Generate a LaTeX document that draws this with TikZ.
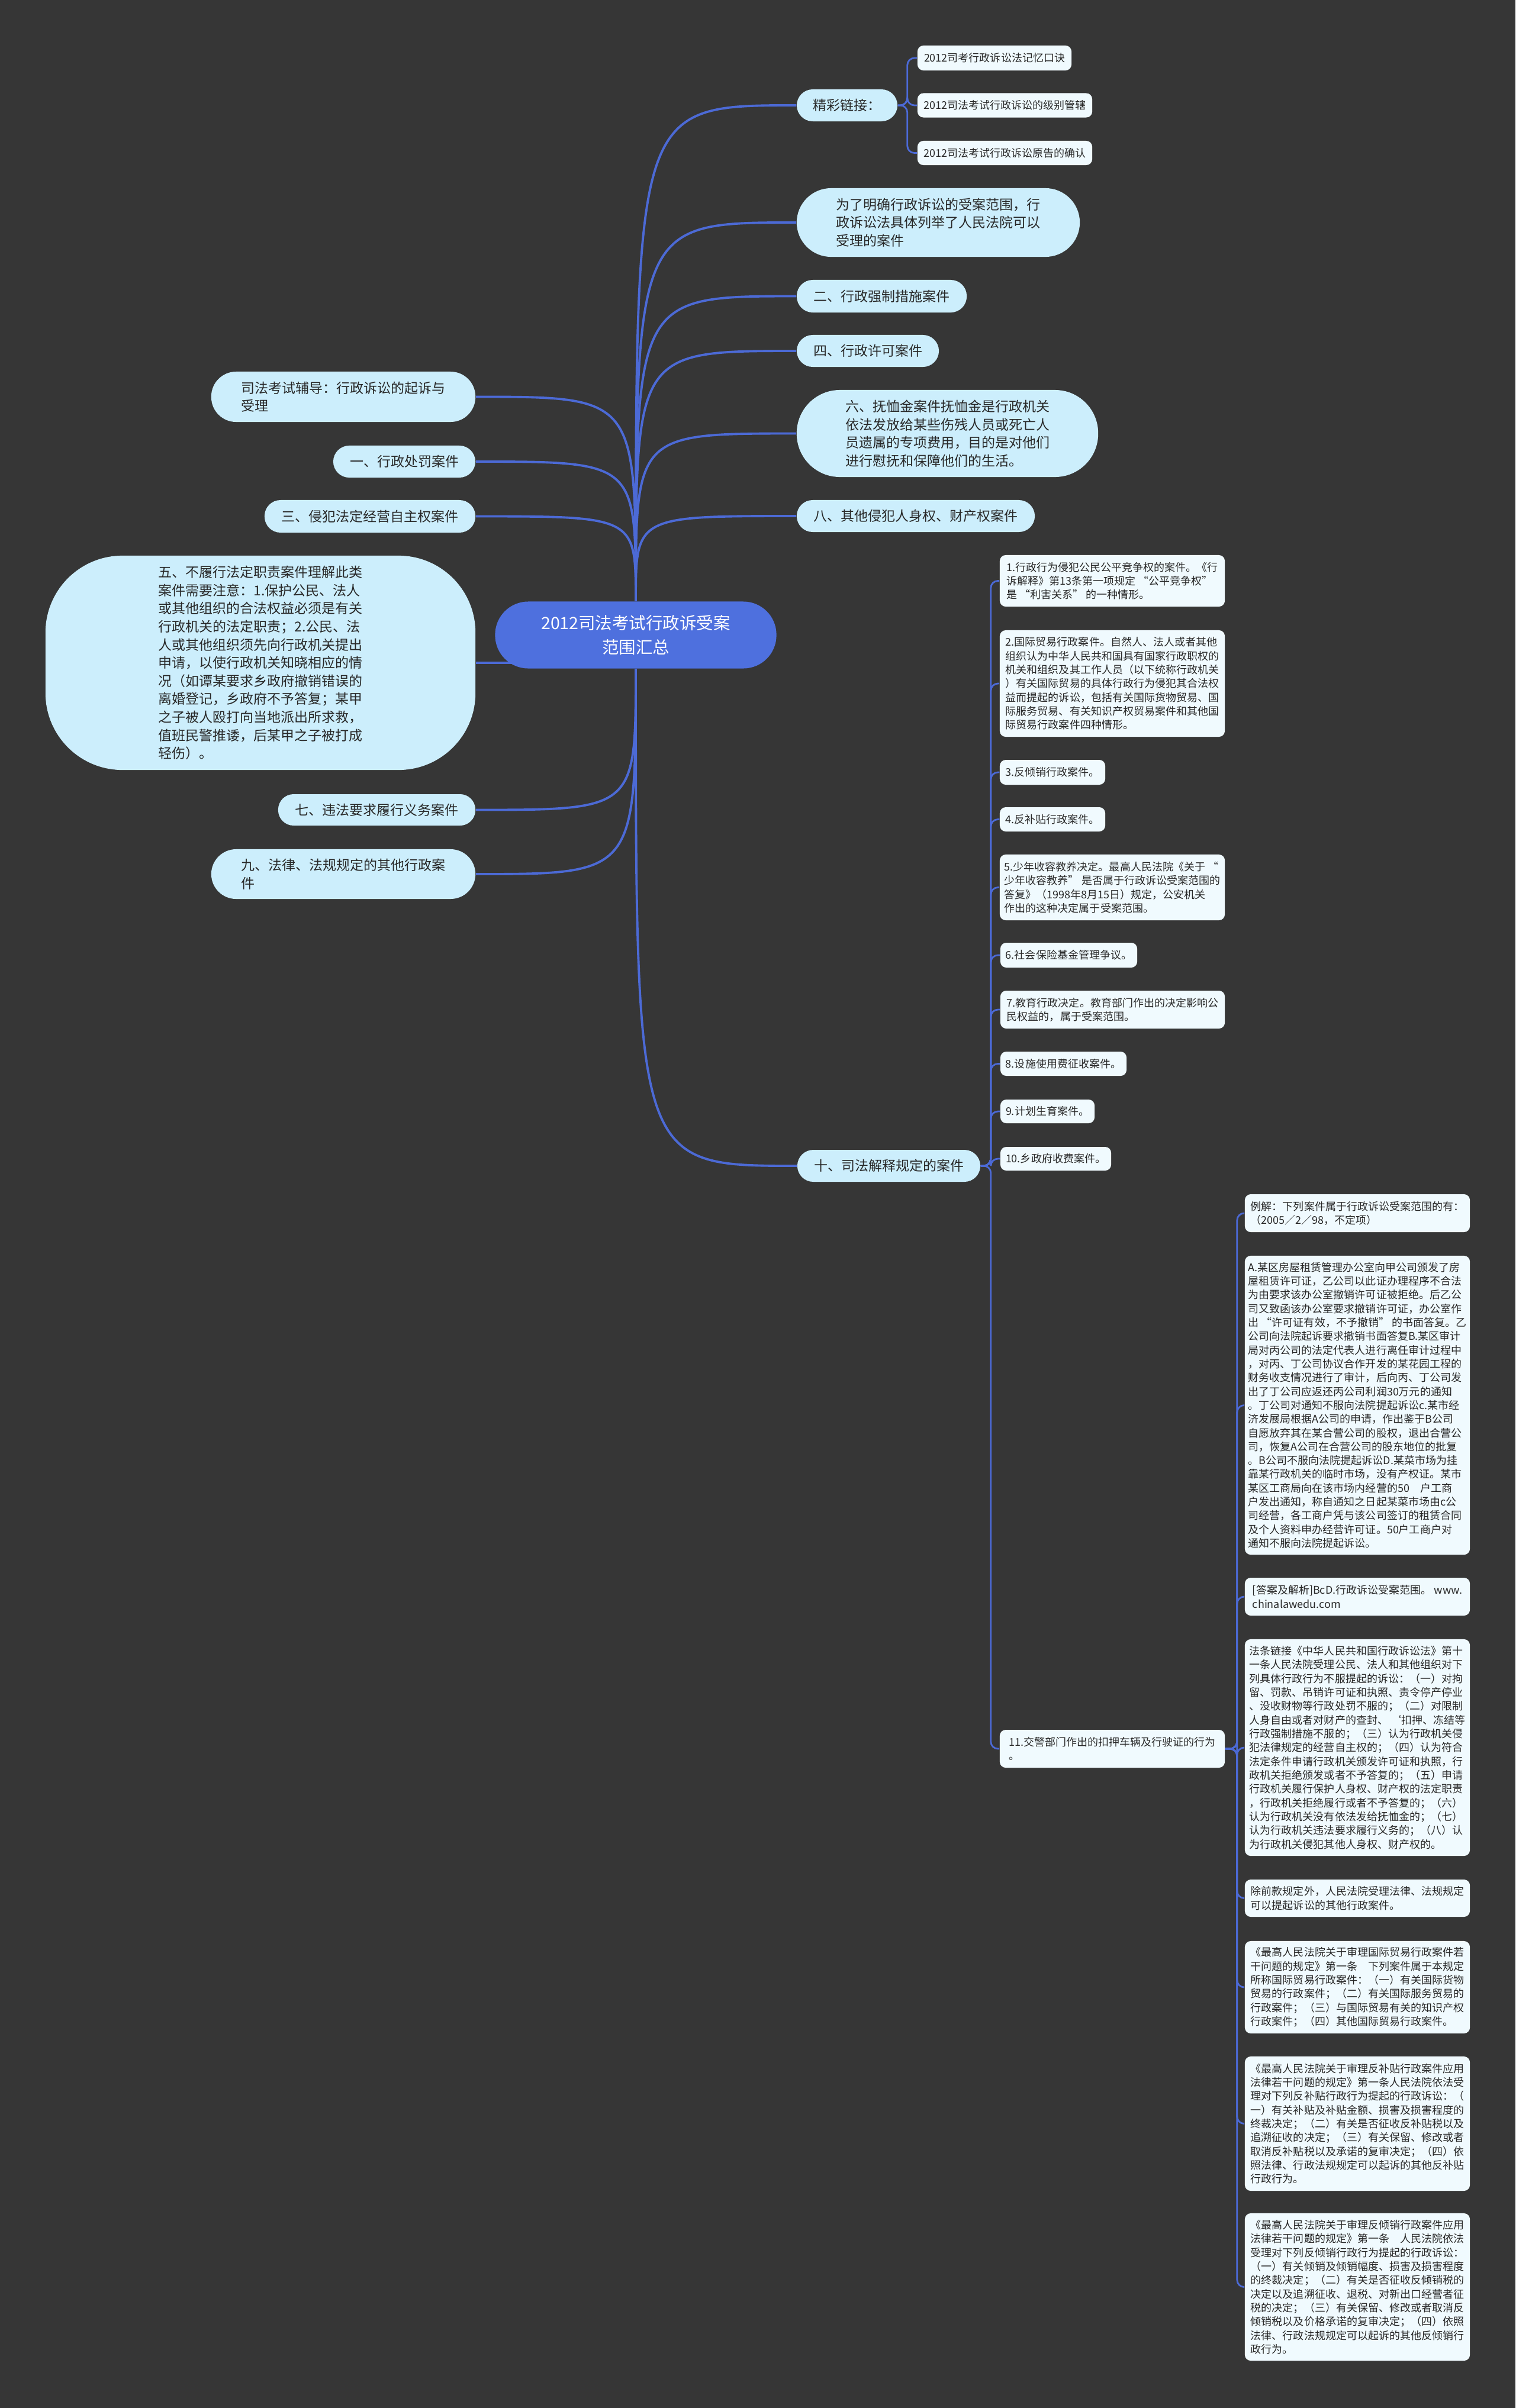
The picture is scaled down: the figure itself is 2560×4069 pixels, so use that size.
\documentclass[tikz,border=0pt]{standalone}
\usepackage{fontspec}
\setmainfont{Noto Sans CJK SC}
\usetikzlibrary{calc}
\pgfdeclarelayer{bg}
\pgfsetlayers{bg,main}
\definecolor{bgc}{RGB}{54,54,54}
\definecolor{linec}{RGB}{76,106,214}
\definecolor{rootc}{RGB}{78,112,222}
\definecolor{branchc}{RGB}{204,238,252}
\definecolor{leafc}{RGB}{240,250,254}
\definecolor{txt}{RGB}{40,40,40}
\tikzset{
 rootnode/.style={fill=rootc, text=white, inner sep=0pt, align=center, rounded corners=0.56cm, font=\fontsize{8.1pt}{11.9pt}\selectfont},
 br/.style={fill=branchc, text=txt, inner sep=0pt, align=left, font=\fontsize{6.54pt}{8.7pt}\selectfont},
 leaf/.style={fill=leafc, text=txt, inner sep=0pt, align=left, rounded corners=0.1cm, font=\fontsize{5.12pt}{6.63pt}\selectfont},
 conn/.style={draw=linec, line width=1.1pt},
 conn2/.style={draw=linec, line width=0.8pt, rounded corners=0.12cm},
}
\begin{document}
\begin{tikzpicture}[x=0.01cm, y=-0.01cm]
\useasboundingbox (0,0) rectangle (2560,4069);
% root
\node[rootnode, minimum width=4.75cm, minimum height=1.13cm] (root) at (1074,1073) {2012司法考试行政诉受案\\范围汇总};
% right branches
\node[br, minimum width=1.70cm, minimum height=0.54cm, rounded corners=0.27cm] (jc) at (1431,178) {精彩链接：};
\node[leaf, minimum width=2.60cm, minimum height=0.42cm] (p1) at (1680,98) {2012司考行政诉讼法记忆口诀};
\node[leaf, minimum width=2.95cm, minimum height=0.41cm] (p2) at (1697.5,178) {2012司法考试行政诉讼的级别管辖};
\node[leaf, minimum width=2.95cm, minimum height=0.41cm] (p3) at (1697.5,258.5) {2012司法考试行政诉讼原告的确认};
\node[br, minimum width=4.78cm, minimum height=1.16cm, rounded corners=0.58cm] (weile) at (1585,376) {为了明确行政诉讼的受案范围，行\\政诉讼法具体列举了人民法院可以\\受理的案件};
\node[br, minimum width=2.87cm, minimum height=0.55cm, rounded corners=0.27cm] (er) at (1489.5,500.5) {二、行政强制措施案件};
\node[br, minimum width=2.40cm, minimum height=0.54cm, rounded corners=0.27cm] (si) at (1466,593) {四、行政许可案件};
\node[br, minimum width=5.09cm, minimum height=1.47cm, rounded corners=0.73cm] (liu) at (1600.5,732.5) {六、抚恤金案件抚恤金是行政机关\\依法发放给某些伤残人员或死亡人\\员遗属的专项费用，目的是对他们\\进行慰抚和保障他们的生活。};
\node[br, minimum width=4.02cm, minimum height=0.54cm, rounded corners=0.27cm] (ba) at (1547,872) {八、其他侵犯人身权、财产权案件};
\node[br, minimum width=3.09cm, minimum height=0.54cm, rounded corners=0.27cm] (shi) at (1501.5,1970) {十、司法解释规定的案件};
% left branches
\node[br, minimum width=4.46cm, minimum height=0.85cm, rounded corners=0.42cm] (sifa) at (580,670.5) {司法考试辅导：行政诉讼的起诉与\\受理};
\node[br, minimum width=2.40cm, minimum height=0.54cm, rounded corners=0.27cm] (yi) at (683,780) {一、行政处罚案件};
\node[br, minimum width=3.56cm, minimum height=0.55cm, rounded corners=0.27cm] (san) at (625,872.5) {三、侵犯法定经营自主权案件};
\node[br, minimum width=7.26cm, minimum height=3.62cm, rounded corners=1.3cm] (wu) at (440,1120) {五、不履行法定职责案件理解此类\\案件需要注意：1.保护公民、法人\\或其他组织的合法权益必须是有关\\行政机关的法定职责；2.公民、法\\人或其他组织须先向行政机关提出\\申请，以使行政机关知晓相应的情\\况（如谭某要求乡政府撤销错误的\\离婚登记，乡政府不予答复；某甲\\之子被人殴打向当地派出所求救，\\值班民警推诿，后某甲之子被打成\\轻伤）。};
\node[br, minimum width=3.33cm, minimum height=0.53cm, rounded corners=0.26cm] (qi) at (636.5,1368.5) {七、违法要求履行义务案件};
\node[br, minimum width=4.46cm, minimum height=0.84cm, rounded corners=0.42cm] (jiu) at (580,1477) {九、法律、法规规定的其他行政案\\件};
% children of shi
\node[leaf, minimum width=3.80cm, minimum height=0.87cm] (L1) at (1879,981.5) {1.行政行为侵犯公民公平竞争权的案件。《行\\诉解释》第13条第一项规定 “公平竞争权”\\是 “利害关系” 的一种情形。};
\node[leaf, minimum width=3.80cm, minimum height=1.80cm] (L2) at (1879,1155) {2.国际贸易行政案件。自然人、法人或者其他\\组织认为中华人民共和国具有国家行政职权的\\机关和组织及其工作人员（以下统称行政机关\\）有关国际贸易的具体行政行为侵犯其合法权\\益而提起的诉讼，包括有关国际货物贸易、国\\际服务贸易、有关知识产权贸易案件和其他国\\际贸易行政案件四种情形。};
\node[leaf, minimum width=1.78cm, minimum height=0.42cm] (L3) at (1778,1305) {3.反倾销行政案件。};
\node[leaf, minimum width=1.78cm, minimum height=0.41cm] (L4) at (1778,1384.5) {4.反补贴行政案件。};
\node[leaf, minimum width=3.80cm, minimum height=1.11cm] (L5) at (1879,1499.5) {5.少年收容教养决定。最高人民法院《关于 “\\少年收容教养” 是否属于行政诉讼受案范围的\\答复》（1998年8月15日）规定，公安机关\\作出的这种决定属于受案范围。};
\node[leaf, minimum width=2.31cm, minimum height=0.42cm] (L6) at (1805.5,1614) {6.社会保险基金管理争议。};
\node[leaf, minimum width=3.79cm, minimum height=0.64cm] (L7) at (1879.5,1706) {7.教育行政决定。教育部门作出的决定影响公\\民权益的，属于受案范围。};
\node[leaf, minimum width=2.13cm, minimum height=0.41cm] (L8) at (1796.5,1797.5) {8.设施使用费征收案件。};
\node[leaf, minimum width=1.59cm, minimum height=0.40cm] (L9) at (1769.5,1878) {9.计划生育案件。};
\node[leaf, minimum width=1.87cm, minimum height=0.40cm] (L10) at (1783.5,1958) {10.乡政府收费案件。};
\node[leaf, minimum width=3.80cm, minimum height=0.64cm] (L11) at (1879,2955) {11.交警部门作出的扣押车辆及行驶证的行为\\。};
% children of L11
\node[leaf, minimum width=3.80cm, minimum height=0.64cm] (ra) at (2293,2050) {例解：下列案件属于行政诉讼受案范围的有：\\（2005／2／98，不定项）};
\node[leaf, minimum width=3.80cm, minimum height=5.05cm] (rb) at (2293,2374.5) {A.某区房屋租赁管理办公室向甲公司颁发了房\\屋租赁许可证，乙公司以此证办理程序不合法\\为由要求该办公室撤销许可证被拒绝。后乙公\\司又致函该办公室要求撤销许可证，办公室作\\出 “许可证有效，不予撤销” 的书面答复。乙\\公司向法院起诉要求撤销书面答复B.某区审计\\局对丙公司的法定代表人进行离任审计过程中\\，对丙、丁公司协议合作开发的某花园工程的\\财务收支情况进行了审计，后向丙、丁公司发\\出了丁公司应返还丙公司利润30万元的通知\\。丁公司对通知不服向法院提起诉讼c.某市经\\济发展局根据A公司的申请，作出鉴于B公司\\自愿放弃其在某合营公司的股权，退出合营公\\司，恢复A公司在合营公司的股东地位的批复\\。B公司不服向法院提起诉讼D.某菜市场为挂\\靠某行政机关的临时市场，没有产权证。某市\\某区工商局向在该市场内经营的50\quad 户工商\\户发出通知，称自通知之日起某菜市场由c公\\司经营，各工商户凭与该公司签订的租赁合同\\及个人资料申办经营许可证。50户工商户对\\通知不服向法院提起诉讼。};
\node[leaf, minimum width=3.80cm, minimum height=0.64cm] (rc) at (2293,2698) {[答案及解析]BcD.行政诉讼受案范围。 www.\\chinalawedu.com};
\node[leaf, minimum width=3.80cm, minimum height=3.66cm] (rd) at (2293,2953) {法条链接《中华人民共和国行政诉讼法》第十\\一条人民法院受理公民、法人和其他组织对下\\列具体行政行为不服提起的诉讼：（一）对拘\\留、罚款、吊销许可证和执照、责令停产停业\\、没收财物等行政处罚不服的；（二）对限制\\人身自由或者对财产的查封、 ‘扣押、冻结等\\行政强制措施不服的；（三）认为行政机关侵\\犯法律规定的经营自主权的；（四）认为符合\\法定条件申请行政机关颁发许可证和执照，行\\政机关拒绝颁发或者不予答复的；（五）申请\\行政机关履行保护人身权、财产权的法定职责\\，行政机关拒绝履行或者不予答复的；（六）\\认为行政机关没有依法发给抚恤金的；（七）\\认为行政机关违法要求履行义务的；（八）认\\为行政机关侵犯其他人身权、财产权的。};
\node[leaf, minimum width=3.80cm, minimum height=0.63cm] (re) at (2293,3207.5) {除前款规定外，人民法院受理法律、法规规定\\可以提起诉讼的其他行政案件。};
\node[leaf, minimum width=3.80cm, minimum height=1.56cm] (rf) at (2293,3358) {《最高人民法院关于审理国际贸易行政案件若\\干问题的规定》第一条\quad 下列案件属于本规定\\所称国际贸易行政案件：（一）有关国际货物\\贸易的行政案件；（二）有关国际服务贸易的\\行政案件；（三）与国际贸易有关的知识产权\\行政案件；（四）其他国际贸易行政案件。};
\node[leaf, minimum width=3.80cm, minimum height=2.27cm] (rg) at (2293,3588.5) {《最高人民法院关于审理反补贴行政案件应用\\法律若干问题的规定》第一条人民法院依法受\\理对下列反补贴行政行为提起的行政诉讼：（\\一）有关补贴及补贴金额、损害及损害程度的\\终裁决定；（二）有关是否征收反补贴税以及\\追溯征收的决定；（三）有关保留、修改或者\\取消反补贴税以及承诺的复审决定；（四）依\\照法律、行政法规规定可以起诉的其他反补贴\\行政行为。};
\node[leaf, minimum width=3.80cm, minimum height=2.49cm] (rh) at (2293,3864.5) {《最高人民法院关于审理反倾销行政案件应用\\法律若干问题的规定》第一条\quad 人民法院依法\\受理对下列反倾销行政行为提起的行政诉讼：\\（一）有关倾销及倾销幅度、损害及损害程度\\的终裁决定；（二）有关是否征收反倾销税的\\决定以及追溯征收、退税、对新出口经营者征\\税的决定；（三）有关保留、修改或者取消反\\倾销税以及价格承诺的复审决定；（四）依照\\法律、行政法规规定可以起诉的其他反倾销行\\政行为。};
% connectors
\begin{pgfonlayer}{bg}
\fill[bgc] (0,0) rectangle (2560,4069);
\foreach \t in {jc,weile,er,si,liu,ba}
  \draw[conn] (root.north) .. controls (root.north |- \t.west) .. (\t.west);
\foreach \t in {sifa,yi,san}
  \draw[conn] (root.north) .. controls (root.north |- \t.east) .. (\t.east);
\draw[conn] (root.center |- wu.east) -- (wu.east);
\foreach \t in {qi,jiu}
  \draw[conn] (root.south) .. controls (root.south |- \t.east) .. (\t.east);
\draw[conn] (root.south) .. controls (root.south |- shi.west) .. (shi.west);
\foreach \t in {p1,p2,p3}
  \draw[conn2] (jc.east) -- ++(16,0) |- (\t.west);
\foreach \t in {L1,L2,L3,L4,L5,L6,L7,L8,L9,L10,L11}
  \draw[conn2] (shi.east) -- ++(17,0) |- (\t.west);
\foreach \t in {ra,rb,rc,rd,re,rf,rg,rh}
  \draw[conn2] (L11.east) -- ++(20,0) |- (\t.west);
\end{pgfonlayer}
\end{tikzpicture}
\end{document}
